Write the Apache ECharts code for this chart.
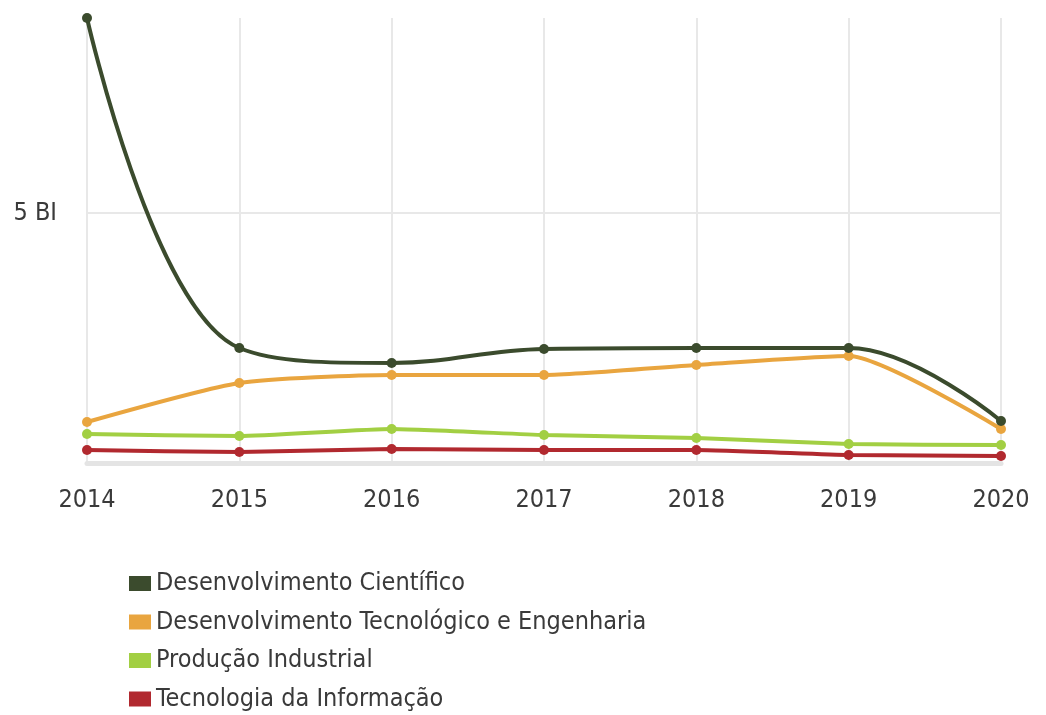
<!DOCTYPE html>
<html><head><meta charset="utf-8">
<script src="https://cdn.jsdelivr.net/npm/echarts@6/dist/echarts.min.js"></script>
<style>html,body{margin:0;padding:0;background:#fff}#c{width:1046px;height:715px}</style>
</head><body><div id="c"></div>
<script>
const years = ['2014','2015','2016','2017','2018','2019','2020'];
const cientifico = [8.9, 2.3, 2.0, 2.28, 2.3, 2.3, 0.84];
const tecnologico = [0.82, 1.6, 1.76, 1.76, 1.96, 2.14, 0.68];
const producao = [0.58, 0.54, 0.68, 0.56, 0.5, 0.38, 0.36];
const informacao = [0.26, 0.22, 0.28, 0.26, 0.26, 0.16, 0.14];
const names = ['Desenvolvimento Científico','Desenvolvimento Tecnológico e Engenharia','Produção Industrial','Tecnologia da Informação'];
const colors = ['#3b4b2d','#e9a53f','#a2cf43','#b1292f'];
const font = "'DejaVu Sans Condensed','Liberation Sans Narrow',sans-serif";
const chart = echarts.init(document.getElementById('c'), null, {renderer:'canvas'});
const datas = [cientifico, tecnologico, producao, informacao];
const zs = [5, 4, 3, 2];
const smooths = [0.4, 0.2, 0.15, 0.15];
chart.setOption({
  animation:false,
  backgroundColor:'#ffffff',
  color: colors,
  grid:{left:87, right:45, top:18, bottom:252},
  legend:{
    orient:'vertical', left:129, top:571, padding:0, height:144, icon:'rect', itemWidth:22, itemHeight:15, itemGap:13.5,
    textStyle:{fontFamily:font, fontSize:25, color:'#3a3a3a', fontWeight:300},
    data: names
  },
  xAxis:{
    type:'category', data: years, boundaryGap:false,
    axisLine:{show:true, lineStyle:{color:'#e4e4e4', width:5}},
    axisTick:{show:false},
    axisLabel:{fontFamily:font, fontSize:25, color:'#3a3a3a', margin:25},
    splitLine:{show:true, lineStyle:{color:'#e8e8e8', width:2}}
  },
  yAxis:{
    type:'value', min:0, max:8.9, interval:5,
    axisLine:{show:false}, axisTick:{show:false},
    axisLabel:{fontFamily:font, fontSize:25, color:'#3a3a3a', margin:30,
      formatter:v => v === 5 ? '5 BI' : ''},
    splitLine:{show:true, showMinLine:false, showMaxLine:false, lineStyle:{color:'#e8e8e8', width:2}}
  },
  series: names.map((n,i)=>({
    name:n, type:'line', data:datas[i], smooth:smooths[i], z:zs[i],
    symbol:'circle', symbolSize:10,
    lineStyle:{width:4, color:colors[i]},
    itemStyle:{color:colors[i]}
  }))
});
</script></body></html>
